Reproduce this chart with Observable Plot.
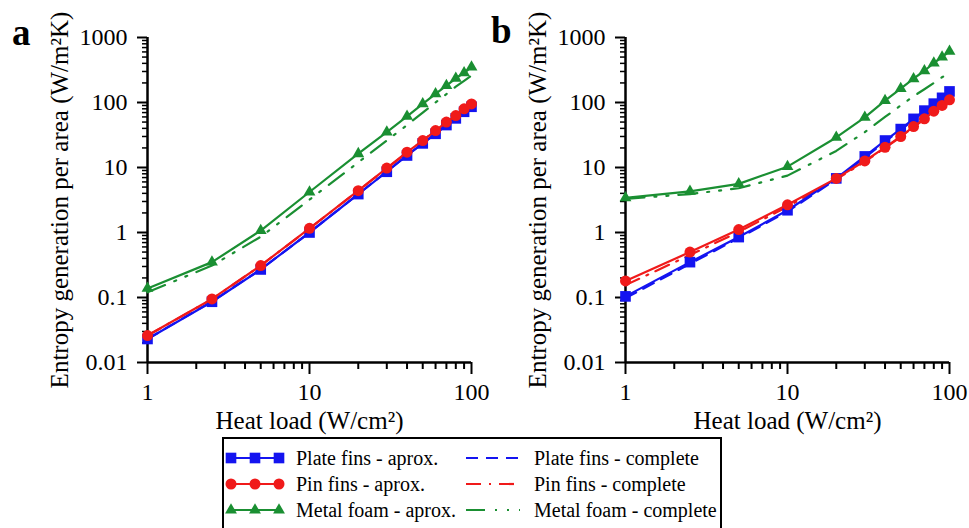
<!DOCTYPE html>
<html>
<head>
<meta charset="utf-8">
<script src="https://cdn.jsdelivr.net/npm/d3@7"></script>
<script src="https://cdn.jsdelivr.net/npm/@observablehq/plot@0.6"></script>
<style>
  html, body { margin: 0; padding: 0; background: #fff; }
  body { width: 969px; height: 528px; position: relative; overflow: hidden; font-family: "Liberation Serif", "Times New Roman", serif; }
  .panel { position: absolute; top: 0; }
  .letter { position: absolute; font-weight: bold; font-size: 37px; font-family: "Liberation Serif", serif; line-height: 1; }
  #legend { position: absolute; left: 222px; top: 437px; width: 500px; height: 100px; border: 2px solid #000; box-sizing: border-box; }
  .lrow { position: absolute; display: flex; align-items: center; font-size: 20px; height: 24px; white-space: nowrap; font-family: "Liberation Serif", serif; }
  .lrow svg { margin-right: 10px; }
</style>
</head>
<body>
<div id="pa" class="panel" style="left:0px"></div>
<div id="pb" class="panel" style="left:478px"></div>
<div class="letter" style="left:12px; top:14px">a</div>
<div class="letter" style="left:491px; top:12px">b</div>
<div id="legend"></div>
<script>
// ---- data ----
const heat = [1, 2.5, 5, 10, 20, 30, 40, 50, 60, 70, 80, 90, 100];

// panel a
const aPlateAprox    = [0.023, 0.086, 0.27, 1.0, 3.9, 8.6, 15.3, 23.5, 33, 45, 57, 72, 86];
const aPlateComplete = [0.023, 0.087, 0.27, 1.0, 3.9, 8.7, 15.4, 23.5, 33, 45, 57, 72, 87];
const aPinAprox      = [0.026, 0.095, 0.31, 1.16, 4.4, 9.8, 17.2, 26, 37, 50, 63, 80, 95];
const aPinComplete   = [0.026, 0.094, 0.31, 1.15, 4.4, 9.7, 17.0, 26, 37, 49, 63, 79, 94];
const aFoamAprox     = [0.138, 0.35, 1.07, 4.2, 16.3, 35, 61, 95, 136, 182, 236, 286, 350];
const aFoamComplete  = [0.12, 0.31, 0.86, 3.2, 12, 26, 45, 70, 100, 135, 175, 215, 260];

// panel b
const bPlateAprox    = [0.104, 0.35, 0.85, 2.2, 6.8, 14.8, 26, 39, 56, 75, 96, 118, 148];
const bPlateComplete = [0.098, 0.33, 0.82, 2.1, 6.6, 14.2, 25, 38, 54, 72, 93, 115, 143];
const bPinAprox      = [0.18, 0.50, 1.11, 2.67, 6.8, 12.6, 20.4, 30, 42.6, 56, 73.5, 90, 110];
const bPinComplete   = [0.155, 0.45, 1.02, 2.5, 6.6, 12.3, 20, 29.5, 42, 55, 72, 88, 108];
const bFoamAprox     = [3.4, 4.3, 5.6, 10.3, 29, 59, 107, 164, 232, 308, 403, 500, 610];
const bFoamComplete  = [3.3, 3.9, 4.8, 7.5, 18, 35, 60, 90, 125, 160, 200, 245, 290];

const seriesNames = ["Plate fins - aprox.", "Pin fins - aprox.", "Metal foam - aprox.",
                     "Plate fins - complete", "Pin fins - complete", "Metal foam - complete"];

// ticks
const xMajor = [1, 10, 100];
const xMinor = [2, 3, 4, 5, 6, 7, 8, 9, 20, 30, 40, 50, 60, 70, 80, 90];
const yMajor = [0.01, 0.1, 1, 10, 100, 1000];
const yMinor = [0.02, 0.03, 0.04, 0.05, 0.06, 0.07, 0.08, 0.09,
                0.2, 0.3, 0.4, 0.5, 0.6, 0.7, 0.8, 0.9,
                2, 3, 4, 5, 6, 7, 8, 9,
                20, 30, 40, 50, 60, 70, 80, 90,
                200, 300, 400, 500, 600, 700, 800, 900];

const xLabel = "Heat load (W/cm²)";
const yLabel = "Entropy generation per area (W/m²K)";

// ---- styles ----
const FONT = "'Liberation Serif', 'Times New Roman', serif";
const BLUE = "#1414f0", RED = "#f01a1a", GREEN = "#1a8f32";
const styles = {
  plate: {color: BLUE, symbol: "square", r: 6, dash: "12,8"},
  pin:   {color: RED, symbol: "circle", r: 5.5, dash: "15,8,2,8"},
  foam:  {color: GREEN, symbol: "triangle", r: 4.4, dash: "19,10,2,10,2,10"}
};

function toRows(vals) { return heat.map((h, i) => ({x: h, y: vals[i]})); }

function panel(set) {
  const marks = [];
  for (const [key, vals] of [["plate", set.plateC], ["pin", set.pinC], ["foam", set.foamC]]) {
    const s = styles[key];
    marks.push(Plot.line(toRows(vals), {x: "x", y: "y", stroke: s.color, strokeWidth: 2.2, strokeDasharray: s.dash}));
  }
  for (const [key, vals] of [["plate", set.plateA], ["pin", set.pinA], ["foam", set.foamA]]) {
    const s = styles[key];
    marks.push(Plot.line(toRows(vals), {x: "x", y: "y", stroke: s.color, strokeWidth: 2.2}));
    marks.push(Plot.dot(toRows(vals), {x: "x", y: "y", fill: s.color, symbol: s.symbol, r: s.r}));
  }
  return Plot.plot({
    width: 480,
    height: 440,
    marginLeft: 147,
    marginRight: 9,
    marginTop: 37,
    marginBottom: 78,
    style: {fontFamily: FONT, fontSize: "24px", color: "#000", background: "transparent", overflow: "visible"},
    x: {type: "log", domain: [1, 100]},
    y: {type: "log", domain: [0.01, 1000]},
    marks: [
      Plot.axisX({ticks: xMajor, tickSize: 12, tickPadding: 8, tickFormat: d => String(d), fontSize: 24, strokeWidth: 2, label: null}),
      Plot.axisX({ticks: xMinor, tickSize: 7, tickFormat: () => "", strokeWidth: 2, label: null}),
      Plot.axisY({ticks: yMajor, tickSize: 10, tickPadding: 10, tickFormat: d => String(d), fontSize: 24, strokeWidth: 2, label: null}),
      Plot.axisY({ticks: yMinor, tickSize: 5, tickFormat: () => "", strokeWidth: 1.5, label: null}),
      Plot.ruleX([xMajor[0]], {strokeWidth: 2.5}),
      Plot.ruleY([yMajor[0]], {strokeWidth: 2.5}),
      Plot.text([xLabel], {frameAnchor: "bottom", textAnchor: "middle", lineAnchor: "middle", dy: 58, fontSize: 25, fontFamily: FONT, text: d => d}),
      Plot.text([yLabel], {frameAnchor: "left", textAnchor: "middle", lineAnchor: "middle", rotate: -90, dx: -88, fontSize: 25, fontFamily: FONT, text: d => d}),
      ...marks
    ]
  });
}

document.getElementById("pa").append(panel({
  plateA: aPlateAprox, pinA: aPinAprox, foamA: aFoamAprox,
  plateC: aPlateComplete, pinC: aPinComplete, foamC: aFoamComplete
}));
document.getElementById("pb").append(panel({
  plateA: bPlateAprox, pinA: bPinAprox, foamA: bFoamAprox,
  plateC: bPlateComplete, pinC: bPinComplete, foamC: bFoamComplete
}));

// ---- legend ----
const legend = document.getElementById("legend");
const keys = ["plate", "pin", "foam"];
const NS = "http://www.w3.org/2000/svg";
function swatch(key, complete) {
  const s = styles[key];
  const svg = document.createElementNS(NS, "svg");
  svg.setAttribute("width", 62); svg.setAttribute("height", 18);
  const line = document.createElementNS(NS, "line");
  line.setAttribute("x1", 4); line.setAttribute("x2", 58);
  line.setAttribute("y1", 9); line.setAttribute("y2", 9);
  line.setAttribute("stroke", s.color); line.setAttribute("stroke-width", 2.2);
  if (complete) line.setAttribute("stroke-dasharray", s.dash);
  svg.append(line);
  if (!complete) {
    const sym = d3.symbol().type(s.symbol === "square" ? d3.symbolSquare : s.symbol === "circle" ? d3.symbolCircle : d3.symbolTriangle).size(Math.PI * s.r * s.r);
    for (const cx of [7, 31, 55]) {
      const p = document.createElementNS(NS, "path");
      p.setAttribute("d", sym()); p.setAttribute("fill", s.color);
      p.setAttribute("transform", `translate(${cx},9)`);
      svg.append(p);
    }
  }
  return svg;
}
keys.forEach((k, i) => {
  for (const complete of [false, true]) {
    const row = document.createElement("div");
    row.className = "lrow";
    row.style.top = (7 + i * 26) + "px";
    row.style.left = (complete ? 238 : 0) + "px";
    row.append(swatch(k, complete));
    const t = document.createElement("span");
    t.textContent = seriesNames[i + (complete ? 3 : 0)];
    row.append(t);
    legend.append(row);
  }
});
</script>
</body>
</html>
